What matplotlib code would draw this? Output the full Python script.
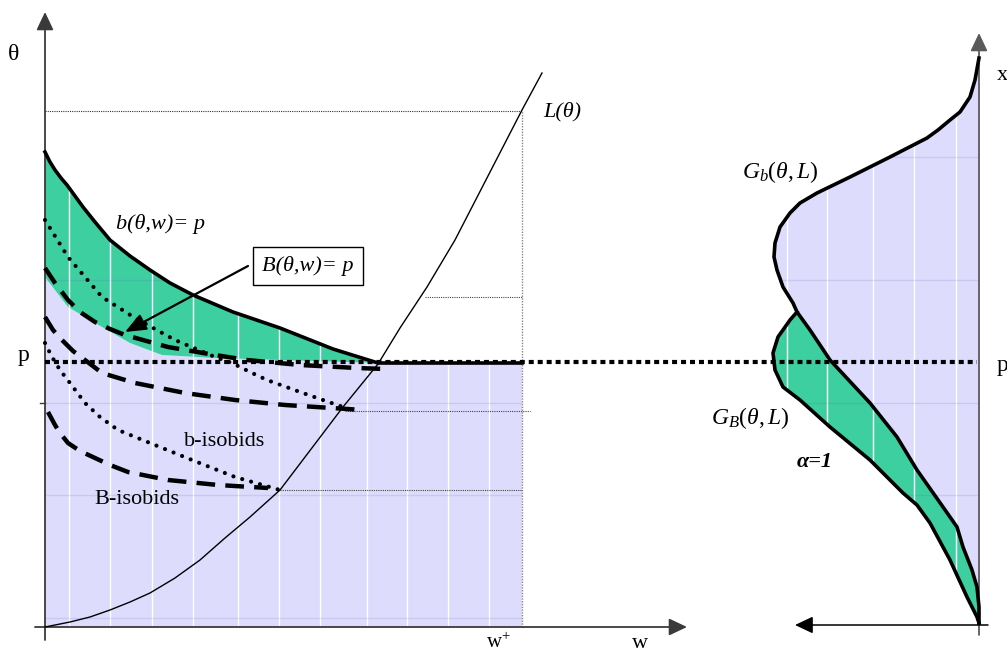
import matplotlib
matplotlib.use("Agg")
import matplotlib.pyplot as plt
import numpy as np
from matplotlib.patches import Polygon

plt.rcParams["font.family"] = ["Liberation Serif", "DejaVu Serif"]
plt.rcParams["mathtext.fontset"] = "custom"
plt.rcParams["mathtext.rm"] = "Liberation Serif"
plt.rcParams["mathtext.it"] = "Liberation Serif:italic"
plt.rcParams["mathtext.bf"] = "Liberation Serif:bold"

# ---- left panel: w (across) vs theta (up) ----
L_w = [0, 25, 45, 65, 85, 105, 130, 155, 180, 205, 235, 298, 333, 355, 382, 410, 477, 497]
L_theta = [0, 5, 10, 17, 25, 34, 49, 67, 89, 110, 137, 220, 263, 299, 340, 387, 517, 554]

# b(theta,w)=p, then flat at p up to w+
b_w = [0, 5, 10, 16, 22, 30, 38, 50, 65, 85, 105, 125, 148, 188, 235, 288, 333, 477]
b_theta = [475, 465, 457, 449, 442, 431, 420, 405, 387, 371, 357, 344, 332, 315, 299, 278, 264, 264]

# B-isobids (dashed)
B1_w = [0, 10, 23, 35, 50, 65, 80, 123, 170, 202, 255, 312, 340]
B1_theta = [359, 344, 327, 315, 305, 298, 292, 280, 272, 267, 262, 259, 258]
B2_w = [0, 8, 17, 28, 40, 57, 90, 140, 190, 240, 318]
B2_theta = [310, 297, 287, 276, 267, 254, 244, 234, 227, 222, 217]
B3_w = [3, 10, 15, 23, 35, 50, 65, 83, 123, 173, 223]
B3_theta = [215, 202, 194, 184, 176, 169, 162, 155, 147, 142, 139]

# b-isobids (dotted)
b2_w = [0, 23, 57, 90, 130, 170, 187, 205, 222, 255, 298]
b2_theta = [407, 370, 330, 309, 287, 270, 264, 255, 247, 235, 220]
b3_w = [0, 7, 15, 25, 40, 55, 73, 105, 147, 190, 235]
b3_theta = [284, 270, 257, 244, 224, 210, 197, 184, 167, 150, 137]

# upper edge of the lavender region
lav_w = [0, 23, 50, 85, 117, 170, 333, 477]
lav_theta = [350, 320, 304, 284, 272, 269, 264, 264]

P_LEVEL = 264
THETA_TOP = 516
W_PLUS = 477
ref_levels = [(330, 380, 477), (216, 300, 485), (137, 235, 477)]

# ---- right panel: densities against theta (g grows to the left) ----
Gb_g = [0, 4, 9, 19, 29, 41, 52, 89, 129, 162, 179, 189, 199, 204, 205, 202, 196, 186,
        182, 169, 149, 109, 82, 62, 36, 22, 16, 7, 2, 0, 0]
Gb_theta = [569, 547, 530, 515, 507, 497, 489, 470, 450, 434, 424, 414, 400, 384, 370, 357,
            340, 324, 315, 297, 267, 224, 190, 157, 120, 100, 80, 57, 40, 20, 4]
GB_g = [182, 189, 201, 206, 204, 196, 179, 149, 109, 76, 62, 49, 29, 12, 2, 0]
GB_theta = [315, 307, 290, 274, 257, 240, 227, 200, 167, 134, 122, 104, 67, 30, 10, 4]

grid_w = [24, 65, 107, 148, 193, 234, 275, 322, 362, 403, 444]
grid_g = [192, 152, 106, 65, 23]
grid_theta = [470, 347, 224, 132, 9]

X_G0 = 934  # position of the right-hand axis

GREEN = "#3dcf9f"
LAV = "#dddcfd"
AXC = "#3a3a3a"

fig = plt.figure(figsize=(10.07, 6.54), dpi=100)
ax = fig.add_axes([0, 0, 1, 1])
ax.set_xlim(-45, 962)
ax.set_ylim(-27, 627)
ax.axis("off")

gx = lambda g: X_G0 - np.asarray(g)

# fills
lav_left = Polygon(np.column_stack([lav_w + [W_PLUS, 0], lav_theta + [0, 0]]),
                   closed=True, fc=LAV, ec="none", zorder=1)
green_left = Polygon(np.column_stack([b_w + lav_w[::-1], b_theta + lav_theta[::-1]]),
                     closed=True, fc=GREEN, ec="none", zorder=1)
lav_right = Polygon(np.column_stack([gx(Gb_g), Gb_theta]), closed=True,
                    fc=LAV, ec="none", zorder=1)
i0 = Gb_theta.index(315)
green_right = Polygon(np.column_stack([np.r_[gx(Gb_g[i0:]), gx(GB_g[::-1])],
                                       Gb_theta[i0:] + GB_theta[::-1]]),
                      closed=True, fc=GREEN, ec="none", zorder=1)
for p in [lav_left, green_left, lav_right, green_right]:
    ax.add_patch(p)

# chart gridlines showing through the fills
for p in [lav_left, green_left, lav_right, green_right]:
    vl = ax.vlines(list(grid_w) + list(gx(grid_g)), -5, 600, color="white", lw=1.0, zorder=2)
    vl.set_clip_path(p)
    hl = ax.hlines(grid_theta, -5, 960, color=(0.35, 0.35, 0.7, 0.15), lw=1.0, zorder=2)
    hl.set_clip_path(p)

# thin reference lines
ax.plot([0, W_PLUS], [THETA_TOP, THETA_TOP], color="#333333", lw=0.8, ls=(0, (1, 1)), zorder=3)
ax.plot([W_PLUS, W_PLUS], [0, THETA_TOP], color="#888888", lw=1.0, ls=(0, (1, 1)), zorder=3)
for th, w0, w1 in ref_levels:
    ax.plot([w0, w1], [th, th], color="#444444", lw=0.8, ls=(0, (1, 1)), zorder=3)

# axes with arrow heads
arr = dict(arrowstyle="-|>,head_length=0.55,head_width=0.26", color=AXC, lw=1.3,
           mutation_scale=20, shrinkA=0, shrinkB=0)
ax.annotate("", xy=(0, 615), xytext=(0, -13), arrowprops=arr, zorder=4)
ax.annotate("", xy=(642, 0), xytext=(-10, 0), arrowprops=arr, zorder=4)
ax.plot([-5, 0], [224, 224], color=AXC, lw=1.0, zorder=4)
arr_r = dict(arr, color="#5a5a5a")
ax.annotate("", xy=(X_G0, 594), xytext=(X_G0, -8), arrowprops=arr_r, zorder=4)
arr_b = dict(arr, color="black", lw=1.1)
ax.annotate("", xy=(gx(184), 2), xytext=(gx(-9), 2), arrowprops=arr_b, zorder=4)

# p level
ax.plot([0, 932], [P_LEVEL + 1, P_LEVEL + 1], color="black", lw=3.0, ls=(0, (1.2, 0.95)),
        solid_capstyle="butt", zorder=5)

# curves
ax.plot(L_w, L_theta, color="black", lw=1.0, zorder=6)
ax.plot(b_w, b_theta, color="black", lw=2.6, solid_joinstyle="round", zorder=6)
for xs, ys in [(B1_w, B1_theta), (B2_w, B2_theta), (B3_w, B3_theta)]:
    ax.plot(xs, ys, color="black", lw=3.2, ls=(0, (4.2, 2.3)), dash_capstyle="butt", zorder=6)
for xs, ys in [(b2_w, b2_theta), (b3_w, b3_theta)]:
    ax.plot(xs, ys, color="black", lw=3.0, ls=(0, (0.01, 2.2)), dash_capstyle="round", zorder=6)
ax.plot(gx(Gb_g), Gb_theta, color="black", lw=2.6, solid_joinstyle="round", zorder=6)
ax.plot(gx(GB_g), GB_theta, color="black", lw=2.6, solid_joinstyle="round", zorder=6)

# labels
fs = 16
ax.text(-31, 572, "θ", fontsize=17, ha="center", va="center")
ax.text(-21, 272, "p", fontsize=17, ha="center", va="center")
ax.text(453, -16, r"w$^{+}$", fontsize=15, ha="center", va="center")
ax.text(595, -16, "w", fontsize=16, ha="center", va="center")
ax.text(517, 515, "L(θ)", fontsize=fs, style="italic", ha="center", va="center")
ax.text(116, 403, "b(θ,w)= p", fontsize=fs, style="italic", ha="center", va="center")
ax.text(180, 186, "b-isobids", fontsize=fs, ha="center", va="center", zorder=7)
ax.text(92, 128, "B-isobids", fontsize=fs, ha="center", va="center", zorder=7)
ax.annotate("", xy=(80, 295), xytext=(203, 361),
            arrowprops=dict(arrowstyle="-|>,head_length=0.85,head_width=0.35", color="black",
                            lw=1.6, mutation_scale=15, shrinkA=0, shrinkB=0), zorder=7)
ax.text(263, 361, "B(θ,w)= p", fontsize=fs, style="italic", ha="center", va="center", zorder=8,
        bbox=dict(boxstyle="square,pad=0.42", fc="white", ec="black", lw=1.0))
ax.text(735, 455, r"$\mathit{G_b(θ,L)}$", fontsize=17, ha="center", va="center")
ax.text(705, 209, r"$\mathit{G_B(θ,L)}$", fontsize=17, ha="center", va="center")
ax.text(770, 165, "α=1", fontsize=fs, style="italic", weight="bold", ha="center", va="center")
ax.text(952, 552, "x", fontsize=fs, ha="left", va="center")
ax.text(952, 262, "p", fontsize=17, ha="left", va="center")

fig.savefig("out.png", dpi=100)
